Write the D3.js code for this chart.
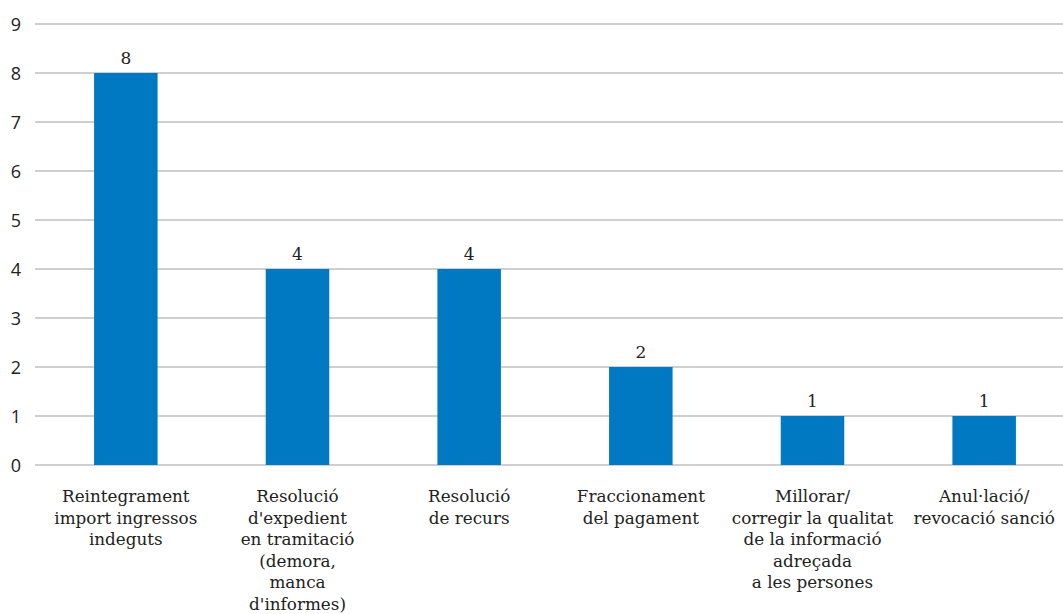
<!DOCTYPE html>
<html>
<meta charset="utf-8">
<head>
<title>Actuacions</title>
<script src="https://cdnjs.cloudflare.com/ajax/libs/d3/7.8.5/d3.min.js"></script>
<style>
  body { margin: 0; background: #fff; }
  .serif { font-family: 'DejaVu Serif', 'Liberation Serif', serif; }
</style>
</head>
<body>
<script>

const width = 1063,
    height = 614;

// Categories (each entry is a list of label lines) and values
const categories = [
    ["Reintegrament", "import ingressos", "indeguts"],
    ["Resolució", "d'expedient", "en tramitació", "(demora,", "manca", "d'informes)"],
    ["Resolució", "de recurs"],
    ["Fraccionament", "del pagament"],
    ["Millorar/", "corregir la qualitat", "de la informació", "adreçada", "a les persones"],
    ["Anul·lació/", "revocació sanció"]
];
const values = [8, 4, 4, 2, 1, 1];
const yTicks = [0, 1, 2, 3, 4, 5, 6, 7, 8, 9];

const margin = {left: 40, right: -7, top: 24, bottom: 149};

const svg = d3.select("body")
    .append("svg")
    .attr("width", width)
    .attr("height", height);

const x = d3.scaleBand()
    .domain(d3.range(values.length))
    .range([margin.left, width - margin.right])
    .paddingInner(0.63)
    .paddingOuter(0.315);

const y = d3.scaleLinear()
    .domain([0, 9])
    .range([height - margin.bottom, margin.top]);

// Gridlines
svg.selectAll("line.grid")
    .data(yTicks)
    .enter()
    .append("line")
    .attr("class", "grid")
    .attr("x1", 35)
    .attr("x2", width)
    .attr("y1", d => y(d))
    .attr("y2", d => y(d))
    .attr("stroke", "#bfbfbf")
    .attr("stroke-width", 1.3);

// Y tick labels
svg.selectAll("text.ytick")
    .data(yTicks)
    .enter()
    .append("text")
    .attr("class", "ytick")
    .attr("x", 21)
    .attr("y", d => y(d) + 7)
    .attr("text-anchor", "end")
    .text(d => d)
    .attr("font-family", "Open Sans, sans-serif")
    .attr("font-size", "18px")
    .attr("fill", "#222");

// Bars
svg.selectAll("rect.bar")
    .data(values)
    .enter()
    .append("rect")
    .attr("class", "bar")
    .attr("x", (d, i) => x(i))
    .attr("y", d => y(d))
    .attr("width", x.bandwidth())
    .attr("height", d => y(0) - y(d))
    .attr("fill", "#0079c2");

// Value labels
svg.selectAll("text.value")
    .data(values)
    .enter()
    .append("text")
    .attr("class", "value serif")
    .attr("x", (d, i) => x(i) + x.bandwidth() / 2)
    .attr("y", d => y(d) - 9)
    .attr("text-anchor", "middle")
    .text(d => d)
    .attr("font-size", "17px")
    .attr("fill", "#222");

// Category labels
const labels = svg.selectAll("text.cat")
    .data(categories)
    .enter()
    .append("text")
    .attr("class", "cat serif")
    .attr("text-anchor", "middle")
    .attr("font-size", "16.8px")
    .attr("fill", "#222");

labels.selectAll("tspan")
    .data((d, i) => d.map(line => ({line, i})))
    .enter()
    .append("tspan")
    .attr("x", d => x(d.i) + x.bandwidth() / 2)
    .attr("y", (d, j) => y(0) + 37 + j * 21.6)
    .text(d => d.line);

</script>
</body>
</html>
